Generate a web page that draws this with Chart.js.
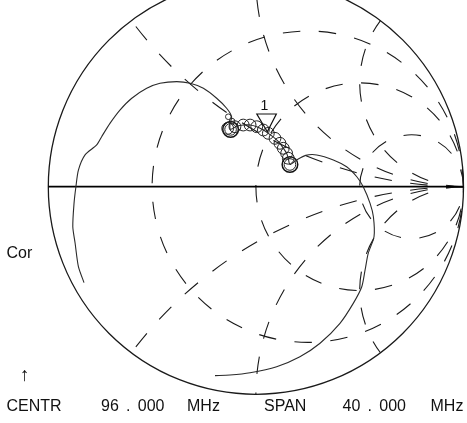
<!DOCTYPE html>
<html>
<head>
<meta charset="utf-8">
<script src="https://cdn.jsdelivr.net/npm/chart.js@4.4.1/dist/chart.umd.min.js"></script>
<style>
  html, body { margin: 0; padding: 0; background: #fff; }
  #wrap { position: relative; width: 467px; height: 423px; overflow: hidden; }
  #chart { position: absolute; left: 0; top: 0; }
  .lbl { position: absolute; font-family: Arial, "Liberation Sans", sans-serif; font-size: 16px; line-height: 16px;
         color: #111; white-space: pre; word-spacing: 2.8px; }
  #mk1 { font-size: 14px; line-height: 14px; transform: translateX(-50%); }
  #arrow { font-size: 19px; line-height: 19px; }
</style>
</head>
<body>
<div id="wrap">
  <canvas id="chart" width="467" height="423"></canvas>
  <div class="lbl" style="left:6.5px; top:245px;">Cor</div>
  <div class="lbl" id="arrow" style="left:20px; top:365px;">↑</div>
  <div class="lbl" style="left:6.5px; top:398px;">CENTR</div>
  <div class="lbl" style="left:101px; top:398px;">96 . 000</div>
  <div class="lbl" style="left:187px; top:398px;">MHz</div>
  <div class="lbl" style="left:264px; top:398px;">SPAN</div>
  <div class="lbl" style="left:342.5px; top:398px;">40 . 000</div>
  <div class="lbl" style="left:430.5px; top:398px;">MHz</div>
  <div class="lbl" id="mk1">1</div>
</div>
<script>
// Smith chart grid values (normalised impedance)
var resistances = [1/3, 1, 3];
var reactances = [0.5, 1, 2, -0.5, -1, -2];

// measured trace, reflection coefficient (real, imaginary)
var traceRe = [-0.828, -0.855, -0.871, -0.882, -0.876, -0.867, -0.855, -0.823, -0.767, -0.743,
               -0.703, -0.655, -0.598, -0.526, -0.462, -0.381, -0.317, -0.253, -0.189, -0.141,
               -0.117, -0.125, -0.122, -0.090, -0.061, -0.028, 0.004, 0.036, 0.060, 0.092,
               0.116, 0.132, 0.148, 0.156, 0.164, 0.197, 0.240, 0.293, 0.373, 0.437,
               0.486, 0.517, 0.550, 0.566, 0.569, 0.541, 0.526, 0.510, 0.469, 0.405,
               0.309, 0.212, 0.100, -0.028, -0.125, -0.197];
var traceIm = [-0.462, -0.385, -0.271, -0.193, -0.079, 0.000, 0.080, 0.153, 0.201, 0.241,
               0.305, 0.369, 0.426, 0.474, 0.498, 0.506, 0.498, 0.474, 0.426, 0.378,
               0.337, 0.300, 0.276, 0.292, 0.297, 0.297, 0.289, 0.273, 0.257, 0.233,
               0.209, 0.185, 0.161, 0.137, 0.107, 0.129, 0.151, 0.153, 0.129, 0.096,
               0.048, 0.000, -0.080, -0.145, -0.241, -0.321, -0.401, -0.482, -0.562, -0.658,
               -0.754, -0.819, -0.867, -0.896, -0.907, -0.910];

// small loops along the resonance
var loopRe = [-0.136, -0.101, -0.061, -0.028, 0.004, 0.036, 0.060, 0.092, 0.116, 0.132, 0.148, 0.156];
var loopIm = [0.281, 0.289, 0.297, 0.297, 0.289, 0.273, 0.257, 0.233, 0.209, 0.185, 0.161, 0.137];
var bigLoopRe = [-0.122, 0.164];
var bigLoopIm = [0.276, 0.107];
var tinyLoopRe = [-0.133, -0.115];
var tinyLoopIm = [0.337, 0.316];

// marker 1
var markerRe = [0.055];
var markerIm = [0.265];

function pts(re, im) {
    return re.map(function(v, i) { return { x: v, y: im[i] }; });
}

var smithGrid = {
    id: 'smithGrid',
    beforeDatasetsDraw: function(chart) {
        var ctx = chart.ctx, xs = chart.scales.x, ys = chart.scales.y;
        var px = function(v) { return xs.getPixelForValue(v); };
        var py = function(v) { return ys.getPixelForValue(v); };
        var unit = px(1) - px(0);
        ctx.save();
        ctx.strokeStyle = '#1a1a1a';
        ctx.lineWidth = 1.1;
        ctx.setLineDash([17.5, 18.5]);
        resistances.forEach(function(r) {
            ctx.beginPath();
            ctx.arc(px(r / (1 + r)), py(0), unit / (1 + r), 0, -2 * Math.PI, true);
            ctx.stroke();
        });
        reactances.forEach(function(x) {
            var cx = px(1), cy = py(1 / x), R = unit / Math.abs(x);
            var ex = (x * x - 1) / (x * x + 1), ey = 2 * x / (x * x + 1);
            var a0 = Math.atan2(py(0) - cy, px(1) - cx);
            var a1 = Math.atan2(py(ey) - cy, px(ex) - cx);
            var d = a1 - a0;
            while (d > Math.PI) d -= 2 * Math.PI;
            while (d < -Math.PI) d += 2 * Math.PI;
            ctx.beginPath();
            ctx.arc(cx, cy, R, a0, a1, d < 0);
            ctx.stroke();
        });
        ctx.setLineDash([]);
        ctx.lineWidth = 1.3;
        ctx.beginPath();
        ctx.arc(px(0), py(0), unit, 0, 2 * Math.PI);
        ctx.stroke();
        ctx.lineWidth = 1.8;
        ctx.strokeStyle = '#000';
        ctx.beginPath();
        ctx.moveTo(px(-1), py(0));
        ctx.lineTo(px(1), py(0));
        ctx.stroke();
        ctx.restore();
    },
    afterDatasetsDraw: function(chart) {
        var ctx = chart.ctx, xs = chart.scales.x, ys = chart.scales.y;
        var mx = xs.getPixelForValue(markerRe[0]), my = ys.getPixelForValue(markerIm[0]);
        ctx.save();
        ctx.strokeStyle = '#111';
        ctx.lineWidth = 1.2;
        ctx.beginPath();
        ctx.moveTo(mx, my);
        ctx.lineTo(mx - 10.5, my - 17.7);
        ctx.lineTo(mx + 9, my - 17.7);
        ctx.closePath();
        ctx.stroke();
        ctx.restore();
        var lab = document.getElementById('mk1');
        lab.style.left = (mx - 3) + 'px';
        lab.style.top = (my - 21.7 - 11.9) + 'px';
    }
};

document.addEventListener('DOMContentLoaded', function() {
    var ctx = document.getElementById('chart').getContext('2d');
    var smith = new Chart(ctx, {
        type: 'scatter',
        data: {
            datasets: [{
                label: 'Trace',
                data: pts(traceRe, traceIm),
                showLine: true,
                borderColor: '#2a2a2a',
                borderWidth: 1.1,
                pointRadius: 0,
                tension: 0.25
            }, {
                label: 'Loops',
                data: pts(loopRe, loopIm),
                pointStyle: 'circle',
                pointRadius: 5.9,
                pointBorderWidth: 1,
                pointBorderColor: '#222',
                pointBackgroundColor: 'rgba(0,0,0,0)'
            }, {
                label: 'Big loops outer',
                data: pts(bigLoopRe, bigLoopIm),
                pointRadius: 7.8,
                pointBorderWidth: 1.5,
                pointBorderColor: '#111',
                pointBackgroundColor: 'rgba(0,0,0,0)'
            }, {
                label: 'Big loops inner',
                data: pts(bigLoopRe, bigLoopIm),
                pointRadius: 5.8,
                pointBorderWidth: 1,
                pointBorderColor: '#222',
                pointBackgroundColor: 'rgba(0,0,0,0)'
            }, {
                label: 'Tiny loops',
                data: pts(tinyLoopRe, tinyLoopIm),
                pointRadius: 2.8,
                pointBorderWidth: 1,
                pointBorderColor: '#333',
                pointBackgroundColor: 'rgba(0,0,0,0)'
            }]
        },
        options: {
            responsive: false,
            animation: false,
            layout: { padding: 0, autoPadding: false },
            plugins: { legend: { display: false }, tooltip: { enabled: false } },
            scales: {
                x: { type: 'linear', display: false, min: -1.2327, max: 1.0169 },
                y: { type: 'linear', display: false, min: -1.1382, max: 0.8993 }
            }
        },
        plugins: [smithGrid]
    });
});
</script>
</body>
</html>
